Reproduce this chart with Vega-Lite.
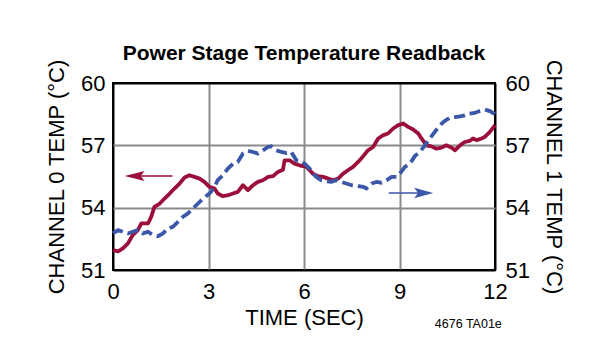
{
  "$schema": "https://vega.github.io/schema/vega-lite/v6.json",
  "width": 382,
  "height": 187,
  "autosize": {"type": "none"},
  "padding": {"left": 113, "top": 83, "right": 115, "bottom": 80},
  "background": "white",
  "title": {
    "text": "Power Stage Temperature Readback",
    "font": "Liberation Sans",
    "fontSize": 21,
    "fontWeight": "bold",
    "color": "black",
    "anchor": "middle",
    "frame": "group",
    "baseline": "alphabetic",
    "offset": -23
  },
  "datasets": {
    "ch0": [
      {"t": 0, "v": 51.96}, {"t": 0.16, "v": 51.9}, {"t": 0.31, "v": 52.04}, {"t": 0.47, "v": 52.28}, {"t": 0.62, "v": 52.68},
      {"t": 0.78, "v": 52.92}, {"t": 0.89, "v": 53.24}, {"t": 1.1, "v": 53.24}, {"t": 1.2, "v": 53.56}, {"t": 1.3, "v": 54.04},
      {"t": 1.47, "v": 54.2}, {"t": 1.62, "v": 54.44}, {"t": 1.78, "v": 54.68}, {"t": 1.93, "v": 54.92}, {"t": 2.09, "v": 55.16},
      {"t": 2.25, "v": 55.45}, {"t": 2.4, "v": 55.56}, {"t": 2.56, "v": 55.48}, {"t": 2.72, "v": 55.4}, {"t": 2.87, "v": 55.24},
      {"t": 3.03, "v": 55.0}, {"t": 3.19, "v": 54.92}, {"t": 3.29, "v": 54.68}, {"t": 3.45, "v": 54.55}, {"t": 3.61, "v": 54.6},
      {"t": 3.77, "v": 54.68}, {"t": 3.92, "v": 54.76}, {"t": 4.08, "v": 55.08}, {"t": 4.24, "v": 54.84}, {"t": 4.4, "v": 55.08},
      {"t": 4.55, "v": 55.24}, {"t": 4.71, "v": 55.32}, {"t": 4.87, "v": 55.48}, {"t": 5.03, "v": 55.52}, {"t": 5.18, "v": 55.72},
      {"t": 5.34, "v": 55.83}, {"t": 5.39, "v": 56.28}, {"t": 5.55, "v": 56.28}, {"t": 5.7, "v": 56.12}, {"t": 5.86, "v": 56.04},
      {"t": 6.08, "v": 55.96}, {"t": 6.28, "v": 55.64}, {"t": 6.44, "v": 55.52}, {"t": 6.6, "v": 55.48}, {"t": 6.76, "v": 55.4},
      {"t": 6.91, "v": 55.32}, {"t": 7.07, "v": 55.4}, {"t": 7.23, "v": 55.64}, {"t": 7.38, "v": 55.8}, {"t": 7.54, "v": 55.96},
      {"t": 7.7, "v": 56.2}, {"t": 7.86, "v": 56.48}, {"t": 8.01, "v": 56.76}, {"t": 8.17, "v": 56.92}, {"t": 8.33, "v": 57.33},
      {"t": 8.49, "v": 57.49}, {"t": 8.64, "v": 57.57}, {"t": 8.8, "v": 57.81}, {"t": 8.96, "v": 57.97}, {"t": 9.12, "v": 58.05},
      {"t": 9.27, "v": 57.89}, {"t": 9.43, "v": 57.76}, {"t": 9.59, "v": 57.57}, {"t": 9.69, "v": 57.33}, {"t": 9.85, "v": 57.0},
      {"t": 10.0, "v": 56.95}, {"t": 10.16, "v": 56.84}, {"t": 10.32, "v": 56.89}, {"t": 10.47, "v": 57.0}, {"t": 10.63, "v": 56.89},
      {"t": 10.74, "v": 56.76}, {"t": 10.9, "v": 57.0}, {"t": 11.05, "v": 57.16}, {"t": 11.2, "v": 57.21}, {"t": 11.31, "v": 57.33},
      {"t": 11.42, "v": 57.25}, {"t": 11.58, "v": 57.33}, {"t": 11.68, "v": 57.41}, {"t": 11.84, "v": 57.65}, {"t": 12.0, "v": 57.97}
    ],
    "ch1": [
      {"t": 0, "v": 52.76}, {"t": 0.16, "v": 52.92}, {"t": 0.31, "v": 52.84}, {"t": 0.47, "v": 52.76}, {"t": 0.62, "v": 52.84},
      {"t": 0.78, "v": 52.92}, {"t": 0.94, "v": 52.76}, {"t": 1.1, "v": 52.84}, {"t": 1.25, "v": 52.68}, {"t": 1.41, "v": 52.63},
      {"t": 1.57, "v": 52.76}, {"t": 1.72, "v": 53.0}, {"t": 1.88, "v": 53.08}, {"t": 2.04, "v": 53.32}, {"t": 2.2, "v": 53.56},
      {"t": 2.35, "v": 53.72}, {"t": 2.51, "v": 53.96}, {"t": 2.67, "v": 54.2}, {"t": 2.83, "v": 54.44}, {"t": 3.03, "v": 54.68},
      {"t": 3.19, "v": 55.0}, {"t": 3.29, "v": 55.32}, {"t": 3.45, "v": 55.56}, {"t": 3.61, "v": 55.88}, {"t": 3.77, "v": 56.12},
      {"t": 3.92, "v": 56.2}, {"t": 4.08, "v": 56.6}, {"t": 4.24, "v": 56.73}, {"t": 4.4, "v": 56.68}, {"t": 4.55, "v": 56.6},
      {"t": 4.71, "v": 56.76}, {"t": 4.87, "v": 56.92}, {"t": 4.97, "v": 56.95}, {"t": 5.13, "v": 56.76}, {"t": 5.29, "v": 56.68},
      {"t": 5.45, "v": 56.63}, {"t": 5.6, "v": 56.68}, {"t": 5.76, "v": 56.28}, {"t": 5.86, "v": 56.28}, {"t": 6.02, "v": 56.12},
      {"t": 6.18, "v": 55.88}, {"t": 6.28, "v": 55.64}, {"t": 6.39, "v": 55.48}, {"t": 6.54, "v": 55.32}, {"t": 6.7, "v": 55.27},
      {"t": 6.86, "v": 55.24}, {"t": 7.02, "v": 55.32}, {"t": 7.18, "v": 55.24}, {"t": 7.33, "v": 55.16}, {"t": 7.49, "v": 55.08},
      {"t": 7.7, "v": 55.04}, {"t": 7.86, "v": 55.0}, {"t": 7.96, "v": 54.92}, {"t": 8.12, "v": 55.16}, {"t": 8.28, "v": 55.24},
      {"t": 8.43, "v": 55.2}, {"t": 8.59, "v": 55.32}, {"t": 8.75, "v": 55.48}, {"t": 8.91, "v": 55.48}, {"t": 9.01, "v": 55.64},
      {"t": 9.17, "v": 55.96}, {"t": 9.33, "v": 56.12}, {"t": 9.48, "v": 56.48}, {"t": 9.64, "v": 56.68}, {"t": 9.8, "v": 57.0},
      {"t": 9.95, "v": 57.33}, {"t": 10.11, "v": 57.65}, {"t": 10.27, "v": 57.97}, {"t": 10.42, "v": 58.17}, {"t": 10.58, "v": 58.33},
      {"t": 10.74, "v": 58.36}, {"t": 10.9, "v": 58.39}, {"t": 11.05, "v": 58.44}, {"t": 11.2, "v": 58.53}, {"t": 11.36, "v": 58.56},
      {"t": 11.52, "v": 58.65}, {"t": 11.68, "v": 58.72}, {"t": 11.84, "v": 58.65}, {"t": 12.0, "v": 58.5}
    ],
    "arrow0": [{"t": 0.68, "t2": 1.87, "v": 55.53}],
    "arrow1": [{"t": 9.76, "t2": 8.66, "v": 54.71}],
    "note": [{"t": 10.11, "v": 48.21, "label": "4676 TA01e"}]
  },
  "encoding": {
    "x": {
      "field": "t",
      "type": "quantitative",
      "title": "TIME (SEC)",
      "scale": {"domain": [0, 12], "nice": false, "zero": false},
      "axis": {
        "values": [0, 3, 6, 9, 12],
        "grid": true,
        "gridColor": {"condition": {"test": "datum.value === 0 || datum.value === 12", "value": "black"}, "value": "#8a8a8a"},
        "labelPadding": 11,
        "titlePadding": 5
      }
    },
    "y": {
      "field": "v",
      "type": "quantitative",
      "scale": {"domain": [51, 60], "nice": false, "zero": false},
      "axis": null
    }
  },
  "layer": [
    {
      "data": {"name": "ch0"},
      "mark": {"type": "line", "color": "#9c0f3a", "strokeWidth": 3.8, "strokeJoin": "round"},
      "encoding": {
        "y": {
          "field": "v",
          "type": "quantitative",
          "title": "CHANNEL 0 TEMP (°C)",
          "scale": {"domain": [51, 60], "nice": false, "zero": false},
          "axis": {
            "orient": "left",
            "values": [51, 54, 57, 60],
            "grid": true,
            "gridColor": {"condition": {"test": "datum.value === 51 || datum.value === 60", "value": "black"}, "value": "#8a8a8a"},
            "labelPadding": 8,
            "titlePadding": 12
          }
        }
      }
    },
    {
      "data": {"name": "ch1"},
      "mark": {"type": "line", "color": "#3b57a8", "strokeWidth": 3.8, "strokeDash": [11, 5]},
      "encoding": {
        "y": {
          "field": "v",
          "type": "quantitative",
          "title": "CHANNEL 1 TEMP (°C)",
          "scale": {"domain": [51, 60], "nice": false, "zero": false},
          "axis": {
            "orient": "right",
            "values": [51, 54, 57, 60],
            "grid": false,
            "labelPadding": 10,
            "titlePadding": 12
          }
        }
      }
    },
    {
      "data": {"name": "arrow0"},
      "mark": {"type": "rule", "color": "#9c0f3a", "strokeWidth": 1.5},
      "encoding": {"x2": {"field": "t2"}}
    },
    {
      "data": {"name": "arrow0"},
      "mark": {"type": "point", "filled": true, "color": "#9c0f3a", "opacity": 1, "size": 400, "shape": "M-1,0L1,-0.5L0.6,0L1,0.5Z"},
      "encoding": {}
    },
    {
      "data": {"name": "arrow1"},
      "mark": {"type": "rule", "color": "#3b57a8", "strokeWidth": 1.5},
      "encoding": {"x2": {"field": "t2"}}
    },
    {
      "data": {"name": "arrow1"},
      "mark": {"type": "point", "filled": true, "color": "#3b57a8", "opacity": 1, "size": 361, "shape": "M1,0L-1,-0.55L-0.6,0L-1,0.55Z"},
      "encoding": {}
    },
    {
      "data": {"name": "note"},
      "mark": {"type": "text", "align": "left", "baseline": "alphabetic", "font": "Liberation Sans", "fontSize": 12.5, "color": "black"},
      "encoding": {"text": {"field": "label"}}
    }
  ],
  "resolve": {"scale": {"y": "independent"}},
  "config": {
    "view": {"stroke": "black", "strokeWidth": 2},
    "axis": {
      "domain": false,
      "ticks": false,
      "tickSize": 0,
      "labelFlush": false,
      "gridWidth": 2,
      "gridOpacity": 1,
      "labelFont": "Liberation Sans",
      "labelFontSize": 22,
      "labelColor": "black",
      "titleFont": "Liberation Sans",
      "titleFontSize": 22,
      "titleFontWeight": "normal",
      "titleColor": "black"
    }
  }
}
